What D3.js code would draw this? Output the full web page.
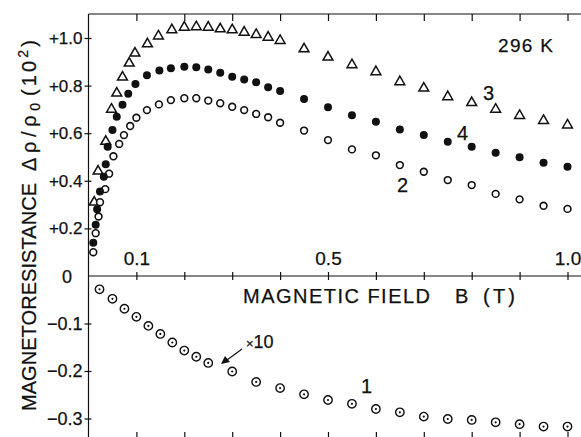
<!DOCTYPE html>
<html>
<head>
<meta charset="utf-8">
<script src="https://cdn.jsdelivr.net/npm/d3@7"></script>
<style>
body { margin: 0; background: #fff; }
svg { display: block; }
text { font-family: "Liberation Sans", Arial, sans-serif; fill: #111; stroke: #111; stroke-width: 0.25; }
.domain, .tick line { stroke: #111; stroke-width: 1.2; }
</style>
</head>
<body>
<div id="chart"></div>
<script>
// field values shared by curves 2, 3, 4 above 0.2 T
var fieldHigh = [0.2, 0.225, 0.25, 0.275, 0.3, 0.325, 0.35, 0.375, 0.4, 0.45, 0.5,
    0.55, 0.6, 0.65, 0.7, 0.75, 0.8, 0.85, 0.9, 0.95, 1.0];

// curve 3 (triangles)
var field3Low = [0.012, 0.02, 0.036, 0.048, 0.059, 0.071, 0.085, 0.097, 0.123, 0.146, 0.174];
var mr3Low = [0.31, 0.44, 0.565, 0.70, 0.768, 0.835, 0.894, 0.936, 0.975, 1.008, 1.034];
var mr3High = [1.045, 1.047, 1.045, 1.038, 1.034, 1.024, 1.014, 1.003, 0.989, 0.954, 0.919,
    0.887, 0.858, 0.816, 0.789, 0.753, 0.728, 0.700, 0.674, 0.653, 0.634];

// curve 4 (filled circles)
var field4Low = [0.01, 0.015, 0.018, 0.024, 0.032, 0.036, 0.04, 0.05, 0.059, 0.071, 0.083, 0.098, 0.122, 0.148, 0.172];
var mr4Low = [0.14, 0.215, 0.28, 0.355, 0.417, 0.47, 0.543, 0.613, 0.669, 0.72, 0.766, 0.807, 0.843, 0.863, 0.873];
var mr4High = [0.879, 0.877, 0.868, 0.854, 0.837, 0.826, 0.814, 0.793, 0.777, 0.744, 0.709,
    0.675, 0.648, 0.616, 0.592, 0.564, 0.543, 0.518, 0.499, 0.476, 0.459];

// curve 2 (open circles)
var field2Low = [0.01, 0.015, 0.021, 0.024, 0.035, 0.043, 0.052, 0.064, 0.074, 0.087, 0.1, 0.122, 0.147, 0.172];
var mr2Low = [0.10, 0.18, 0.25, 0.31, 0.365, 0.43, 0.503, 0.555, 0.592, 0.63, 0.665, 0.697, 0.721, 0.739];
var mr2High = [0.747, 0.747, 0.737, 0.726, 0.711, 0.697, 0.681, 0.667, 0.644, 0.611, 0.571,
    0.532, 0.507, 0.466, 0.438, 0.403, 0.382, 0.345, 0.322, 0.295, 0.282];

// curve 1 (dotted circles, x10)
var field1 = [0.023, 0.05, 0.075, 0.1, 0.125, 0.15, 0.175, 0.2, 0.225, 0.25, 0.3, 0.35, 0.4,
    0.45, 0.5, 0.55, 0.6, 0.65, 0.7, 0.75, 0.8, 0.85, 0.9, 0.95, 1.0];
var mr1 = [-0.028, -0.048, -0.069, -0.086, -0.105, -0.122, -0.14, -0.157, -0.17, -0.183, -0.201,
    -0.223, -0.236, -0.249, -0.261, -0.269, -0.28, -0.287, -0.296, -0.301, -0.303, -0.308, -0.312, -0.317, -0.317];

var xTicks = [0.1, 0.2, 0.3, 0.4, 0.5, 0.6, 0.7, 0.8, 0.9, 1.0];
var xLabels = [0.1, 0.5, 1.0];
var yTopTicks = [0.2, 0.4, 0.6, 0.8, 1.0];
var yBotTicks = [-0.1, -0.2, -0.3];

var width = 581,
    height = 437;

var svg = d3.select("#chart")
    .append("svg")
    .attr("width", width)
    .attr("height", height);

var x = d3.scaleLinear().domain([0, 1]).range([88.5, 567.5]);
var yTop = d3.scaleLinear().domain([0, 1]).range([276, 38]);
var yBot = d3.scaleLinear().domain([0, -0.3]).range([276, 418.5]);

function zip(xs, ys) {
    return xs.map(function (d, i) { return [d, ys[i]]; });
}

var s3 = zip(field3Low.concat(fieldHigh), mr3Low.concat(mr3High));
var s4 = zip(field4Low.concat(fieldHigh), mr4Low.concat(mr4High));
var s2 = zip(field2Low.concat(fieldHigh), mr2Low.concat(mr2High));
var s1 = zip(field1, mr1);

/* ------- AXES -------*/

// top frame
svg.append("g")
    .attr("transform", "translate(0,14)")
    .call(d3.axisBottom(x).tickValues(xTicks).tickSize(7).tickFormat(""))
    .call(function (g) { g.select(".domain").attr("d", "M88.5,0H581"); });

// bottom frame (only the tick stubs are inside the picture)
svg.append("g")
    .attr("transform", "translate(0,438)")
    .call(d3.axisTop(x).tickValues(xTicks).tickSize(6).tickFormat(""))
    .call(function (g) { g.select(".domain").attr("d", "M88.5,0H581"); });

// zero line with field labels above it
var zero = svg.append("g")
    .attr("transform", "translate(0,276)")
    .call(d3.axisTop(x).tickValues(xTicks).tickSize(4).tickPadding(7)
        .tickFormat(function (d) { return xLabels.indexOf(d) >= 0 ? d.toFixed(1) : ""; }))
    .call(function (g) { g.select(".domain").attr("d", "M88.5,0H581"); });
zero.selectAll(".tick line").attr("y1", 4);
zero.selectAll(".tick text").style("font-size", "19px").attr("fill", "#111");

// left axis, upper scale
var leftTop = svg.append("g")
    .attr("transform", "translate(88.5,0)")
    .call(d3.axisLeft(yTop).tickValues(yTopTicks).tickSize(4).tickPadding(2)
        .tickFormat(function (d) { return "+" + d.toFixed(1); }))
    .call(function (g) { g.select(".domain").attr("d", "M0,14V437"); });
leftTop.selectAll(".tick line").attr("x1", 3);
leftTop.selectAll(".tick text").style("font-size", "17px").attr("fill", "#111");

// left axis, lower scale
var leftBot = svg.append("g")
    .attr("transform", "translate(88.5,0)")
    .call(d3.axisLeft(yBot).tickValues(yBotTicks).tickSize(4).tickPadding(2)
        .tickFormat(function (d) { return "\u2212" + Math.abs(d).toFixed(1); }))
    .call(function (g) { g.select(".domain").remove(); });
leftBot.selectAll(".tick line").attr("x1", 3);
leftBot.selectAll(".tick text").style("font-size", "18px").attr("fill", "#111");

svg.append("text")
    .attr("x", 72)
    .attr("y", yTop(0))
    .attr("dy", "0.38em")
    .attr("text-anchor", "end")
    .style("font-size", "18px")
    .text("0");

/* ------- POINTS -------*/

svg.append("g").selectAll("path")
    .data(s3)
    .enter().append("path")
    .attr("d", d3.symbol().type(d3.symbolTriangle).size(42))
    .attr("transform", function (d) { return "translate(" + x(d[0]) + "," + yTop(d[1]) + ")"; })
    .attr("fill", "#fff")
    .attr("stroke", "#111")
    .attr("stroke-width", 1.5);

svg.append("g").selectAll("circle")
    .data(s2)
    .enter().append("circle")
    .attr("cx", function (d) { return x(d[0]); })
    .attr("cy", function (d) { return yTop(d[1]); })
    .attr("r", 3.4)
    .attr("fill", "#fff")
    .attr("stroke", "#111")
    .attr("stroke-width", 1.6);

svg.append("g").selectAll("circle")
    .data(s4)
    .enter().append("circle")
    .attr("cx", function (d) { return x(d[0]); })
    .attr("cy", function (d) { return yTop(d[1]); })
    .attr("r", 4)
    .attr("fill", "#111");

var dots = svg.append("g").selectAll("g")
    .data(s1)
    .enter().append("g")
    .attr("transform", function (d) { return "translate(" + x(d[0]) + "," + yBot(d[1]) + ")"; });
dots.append("circle")
    .attr("r", 4.2)
    .attr("fill", "#fff")
    .attr("stroke", "#111")
    .attr("stroke-width", 1.4);
dots.append("circle")
    .attr("r", 1.1)
    .attr("fill", "#111");

/* ------- TITLES AND NOTES -------*/

var xTitle = svg.append("g").style("font-size", "20px");
xTitle.append("text")
    .attr("x", 243).attr("y", 303)
    .attr("textLength", 187).attr("lengthAdjust", "spacing")
    .text("MAGNETIC FIELD");
xTitle.append("text").attr("x", 455).attr("y", 303).text("B");
xTitle.append("text")
    .attr("x", 483).attr("y", 303)
    .attr("textLength", 32).attr("lengthAdjust", "spacing")
    .text("(T)");

var yTitle = svg.append("g").style("font-size", "20px");
yTitle.append("text")
    .attr("transform", "translate(36,411) rotate(-90)")
    .attr("textLength", 228).attr("lengthAdjust", "spacing")
    .text("MAGNETORESISTANCE");
var t2 = yTitle.append("text")
    .attr("transform", "translate(36,171) rotate(-90)")
    .attr("textLength", 68).attr("lengthAdjust", "spacing");
t2.append("tspan").text("Δρ/ρ");
t2.append("tspan").attr("dy", 4).style("font-size", "14px").text("0");
var t3 = yTitle.append("text")
    .attr("transform", "translate(36,96) rotate(-90)")
    .attr("textLength", 56).attr("lengthAdjust", "spacing");
t3.append("tspan").text("(10");
t3.append("tspan").attr("dy", -8).style("font-size", "14px").text("2");
t3.append("tspan").attr("dy", 8).text(")");

svg.append("text").attr("x", 498).attr("y", 52).style("font-size", "19px")
    .attr("textLength", 55).attr("lengthAdjust", "spacing").text("296 K");
svg.append("text").attr("x", 483).attr("y", 100).style("font-size", "20px").text("3");
svg.append("text").attr("x", 457).attr("y", 140).style("font-size", "20px").text("4");
svg.append("text").attr("x", 397).attr("y", 192).style("font-size", "20px").text("2");
svg.append("text").attr("x", 361).attr("y", 393).style("font-size", "20px").text("1");

var note = svg.append("text").attr("x", 246).attr("y", 348).style("font-size", "18px");
note.append("tspan").style("font-size", "13px").text("×");
note.append("tspan").text("10");

// arrow pointing at the ×10 curve
svg.append("line")
    .attr("x1", 242).attr("y1", 349)
    .attr("x2", 227).attr("y2", 360)
    .attr("stroke", "#111")
    .attr("stroke-width", 1.2);
svg.append("path")
    .attr("d", "M221,364 L225,356 L230,362 Z")
    .attr("fill", "#111");
</script>
</body>
</html>
